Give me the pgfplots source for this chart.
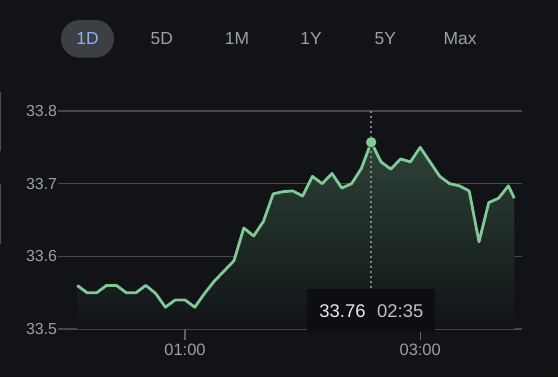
\documentclass[border=0pt]{standalone}
\usepackage{pgfplots}
\usepackage{pgfplotstable}
\pgfplotsset{compat=1.18}
\usepackage{fontspec}
\setmainfont{Liberation Sans}
\definecolor{bg}{HTML}{111317}
\definecolor{pillc}{HTML}{3C3F43}
\definecolor{activec}{HTML}{8AB4F8}
\definecolor{labc}{HTML}{9AA0A6}
\definecolor{gridc}{HTML}{45484D}
\definecolor{tickc}{HTML}{5F6368}
\definecolor{linec}{HTML}{81C995}
\definecolor{filltop}{HTML}{2D4237}
\definecolor{dotc}{HTML}{80868B}
\definecolor{tipbg}{HTML}{0D0E11}
\definecolor{tipval}{HTML}{E8EAED}
\definecolor{tiptime}{HTML}{BDC1C6}
\definecolor{artc}{HTML}{4A4D52}
\pgfplotstableread{
x y
5 33.560
10 33.550
15 33.550
20 33.560
25 33.560
30 33.550
35 33.550
40 33.560
45 33.549
50 33.530
55 33.540
60 33.540
65 33.530
70 33.549
75 33.566
80 33.580
85 33.594
90 33.639
95 33.628
100 33.648
105 33.686
110 33.689
115 33.690
120 33.683
125 33.710
130 33.700
135 33.714
140 33.694
145 33.700
150 33.721
155 33.757
160 33.730
165 33.720
170 33.734
175 33.730
180 33.750
185 33.730
190 33.710
195 33.700
200 33.697
205 33.690
210 33.620
215 33.674
220 33.680
225 33.697
228 33.680
}\pricedata
\begin{document}
\begin{tikzpicture}[x=1bp,y=1bp]
\fill[bg] (0,0) rectangle (558,377);
% range buttons
\fill[pillc, rounded corners=18.8bp] (61,319.3) rectangle (114,357);
\begin{scope}[every node/.style={anchor=base, inner sep=0pt, font=\fontsize{17.5}{17.5}\selectfont, text=labc}]
\node[text=activec] at (87.5,332.4) {1D};
\node at (161.8,332.4) {5D};
\node at (237,332.4) {1M};
\node at (311,332.4) {1Y};
\node at (385.4,332.4) {5Y};
\node at (460,332.4) {Max};
\end{scope}
% left edge artifacts
\fill[artc] (0,226.3) rectangle (1.3,285.3);
\fill[artc] (0,132.7) rectangle (1.3,192.7);
\begin{axis}[
  at={(58bp,48bp)}, anchor=south west, scale only axis,
  width=463.7bp, height=218bp,
  xmin=-4.8, xmax=231.8, ymin=33.5, ymax=33.8,
  axis line style={draw=none},
  ytick={33.5,33.6,33.7,33.8}, yticklabels={33.5,33.6,33.7,33.8},
  ymajorgrids, grid style={gridc, line width=1.2bp},
  xtick={60,180}, xticklabels={01:00,03:00},
  xtick pos=left, tick align=outside, major tick length=11bp,
  xtick style={tickc, line width=1.2bp},
  ytick style={draw=none},
  ticklabel style={text=labc},
  yticklabel style={font=\fontsize{16}{16}\selectfont, inner sep=0pt, anchor=east, xshift=10.3bp},
  xticklabel style={font=\fontsize{16.5}{16.5}\selectfont, inner sep=0pt, anchor=north, yshift=-4bp},
]
\addplot[draw=none, top color=filltop, bottom color=bg] table[x=x,y=y] {\pricedata} \closedcycle;
\addplot[dotc, line width=1.6bp, dash pattern=on 1.8bp off 3.2bp] coordinates {(155,33.8) (155,33.5)};
\addplot[linec, line width=2.8bp, line join=round] table[x=x,y=y] {\pricedata};
\addplot[only marks, mark=*, mark size=5.6bp, mark options={fill=linec, draw=none}] coordinates {(155,33.757)};
\end{axis}
% tooltip
\fill[tipbg] (307.3,45.3) rectangle (435.3,87.7);
\node[anchor=base, inner sep=0pt, text=tipval, font=\fontsize{18.5}{18.5}\selectfont] at (342.5,60) {33.76};
\node[anchor=base, inner sep=0pt, text=tiptime, font=\fontsize{18.5}{18.5}\selectfont] at (400.3,60) {02:35};
\pgfresetboundingbox
\path[use as bounding box] (0,0) rectangle (558,377);
\end{tikzpicture}
\end{document}
